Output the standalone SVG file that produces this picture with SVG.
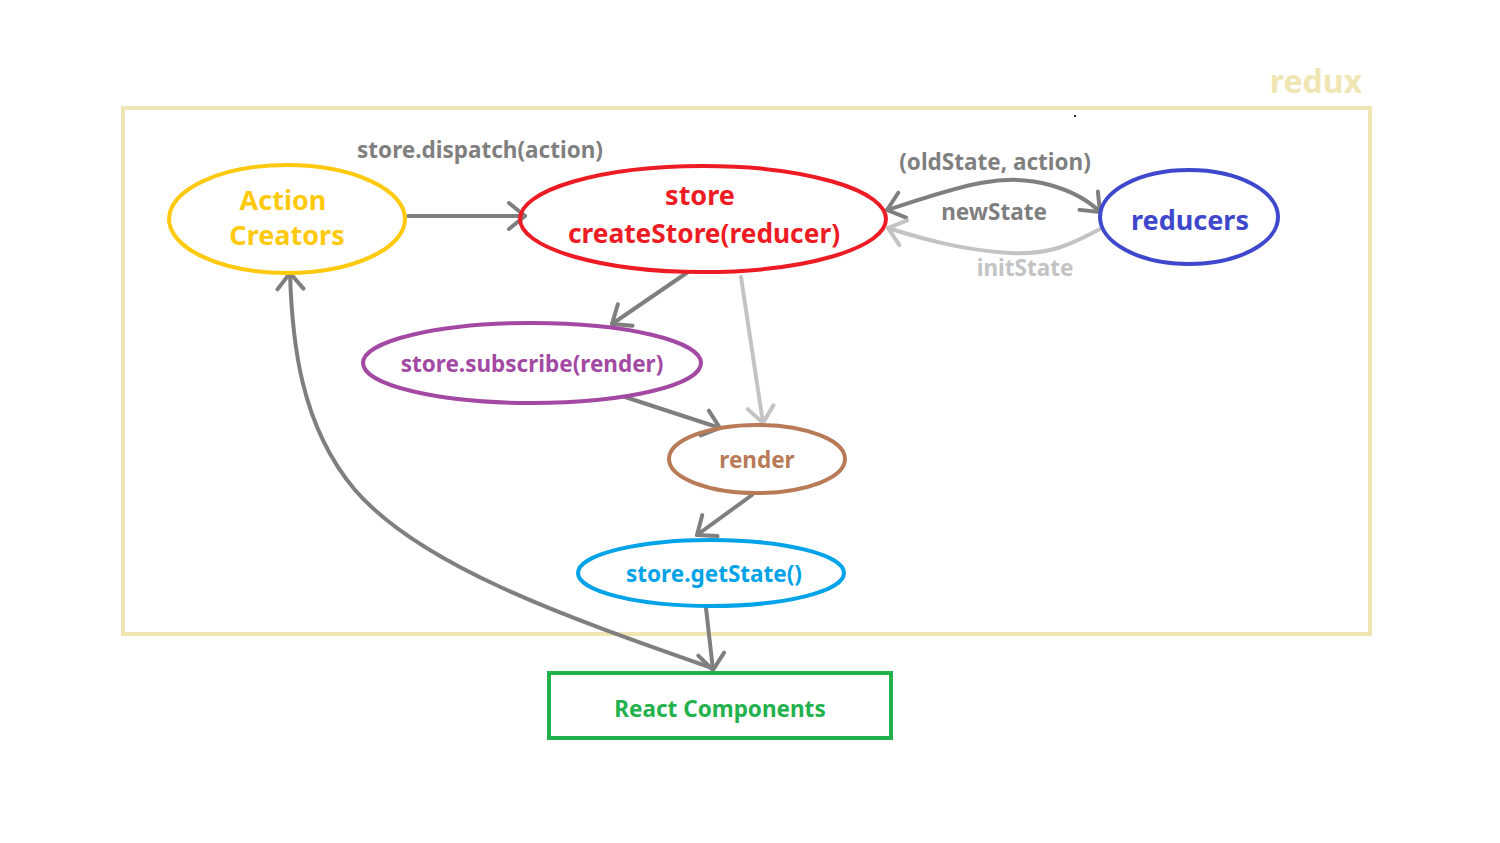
<svg xmlns="http://www.w3.org/2000/svg" width="1500" height="843" viewBox="0 0 1500 843">
<defs>
<marker id="ah" markerUnits="userSpaceOnUse" markerWidth="40" markerHeight="40" refX="0" refY="0" viewBox="-20 -20 40 40" orient="auto" overflow="visible">
<path d="M-16,-13 L0,0 L-16,13" fill="none" stroke="#7F7F7F" stroke-width="4" stroke-linecap="round" stroke-linejoin="round"/>
</marker>
<marker id="ahl" markerUnits="userSpaceOnUse" markerWidth="40" markerHeight="40" refX="0" refY="0" viewBox="-20 -20 40 40" orient="auto" overflow="visible">
<path d="M-16,-13 L0,0 L-16,13" fill="none" stroke="#C3C3C3" stroke-width="4" stroke-linecap="round" stroke-linejoin="round"/>
</marker>
<marker id="ahs" markerUnits="userSpaceOnUse" markerWidth="40" markerHeight="40" refX="0" refY="0" viewBox="-20 -20 40 40" orient="auto-start-reverse" overflow="visible">
<path d="M-16,-13 L0,0 L-16,13" fill="none" stroke="#7F7F7F" stroke-width="4" stroke-linecap="round" stroke-linejoin="round"/>
</marker>
</defs>
<style>
text{font-family:"Noto Sans","Open Sans","Liberation Sans",sans-serif;font-weight:bold;text-anchor:middle}
.n{fill:none;stroke-width:4}
.c{fill:none;stroke:#7F7F7F;stroke-width:4;stroke-linecap:round}
.cl{fill:none;stroke:#C3C3C3;stroke-width:4;stroke-linecap:round}
.lbl{fill:#7F7F7F;font-size:22.5px}
</style>
<rect width="1500" height="843" fill="#FFFFFF"/>
<g id="redux">
<rect x="123" y="108" width="1247" height="526" class="n" stroke="#F0E6B4"/>
<text x="1316" y="93" font-size="32" fill="#F0E6B4">redux</text>
<rect x="1074" y="115" width="2" height="2" fill="#333333"/>
</g>
<g id="connectors">
<path class="c" d="M408,216 L525,216" marker-end="url(#ah)"/>
<path class="c" d="M887,210 C950,190 1000,170 1050,185 C1075,192 1090,202 1100,212" marker-start="url(#ahs)" marker-end="url(#ah)"/>
<path class="cl" d="M1100,229 C1070,245 1050,255 1010,253 C960,250 920,238 888,228" marker-end="url(#ahl)"/>
<path class="c" d="M688,272 L612,324" marker-end="url(#ah)"/>
<path class="cl" d="M741,277 L763,423" marker-end="url(#ahl)"/>
<path class="c" d="M625,397 L720,428" marker-end="url(#ah)"/>
<path class="c" d="M752,495 L697,535" marker-end="url(#ah)"/>
<path class="c" d="M706,608 L713,670" marker-end="url(#ah)"/>
<path class="c" d="M712,668 C560,615 420,565 355,490 C300,425 292,340 290,273" marker-end="url(#ah)"/>
<text class="lbl" x="480" y="158">store.dispatch(action)</text>
<text class="lbl" x="995" y="170">(oldState, action)</text>
<text class="lbl" x="994" y="220">newState</text>
<text x="1025" y="276" font-size="22.5" fill="#C3C3C3">initState</text>
</g>
<g id="action-creators">
<ellipse cx="287" cy="219" rx="118" ry="54" class="n" stroke="#FFC90E"/>
<text x="283" y="210" font-size="27" fill="#FFC90E">Action</text>
<text x="287" y="245" font-size="27" fill="#FFC90E">Creators</text>
</g>
<g id="store">
<ellipse cx="703" cy="219" rx="183" ry="53" class="n" stroke="#ED1C24"/>
<text x="700" y="205" font-size="27" fill="#ED1C24">store</text>
<text x="704" y="243" font-size="26.3" fill="#ED1C24">createStore(reducer)</text>
</g>
<g id="reducers">
<ellipse cx="1189" cy="217" rx="89" ry="47" class="n" stroke="#3F48CC"/>
<text x="1190" y="230" font-size="27" fill="#3F48CC">reducers</text>
</g>
<g id="subscribe">
<ellipse cx="532" cy="363" rx="169" ry="40" class="n" stroke="#A349A4"/>
<text x="532" y="372" font-size="22.5" fill="#A349A4">store.subscribe(render)</text>
</g>
<g id="render">
<ellipse cx="757" cy="459" rx="88" ry="34" class="n" stroke="#B97A57"/>
<text x="757" y="468" font-size="22.5" fill="#B97A57">render</text>
</g>
<g id="getstate">
<ellipse cx="711" cy="573" rx="133" ry="33" class="n" stroke="#00A2E8"/>
<text x="714" y="582" font-size="22.5" fill="#00A2E8">store.getState()</text>
</g>
<g id="react-components">
<rect x="549" y="673" width="342" height="65" class="n" stroke="#22B14C"/>
<text x="720" y="717" font-size="22.5" fill="#22B14C">React Components</text>
</g>
</svg>
